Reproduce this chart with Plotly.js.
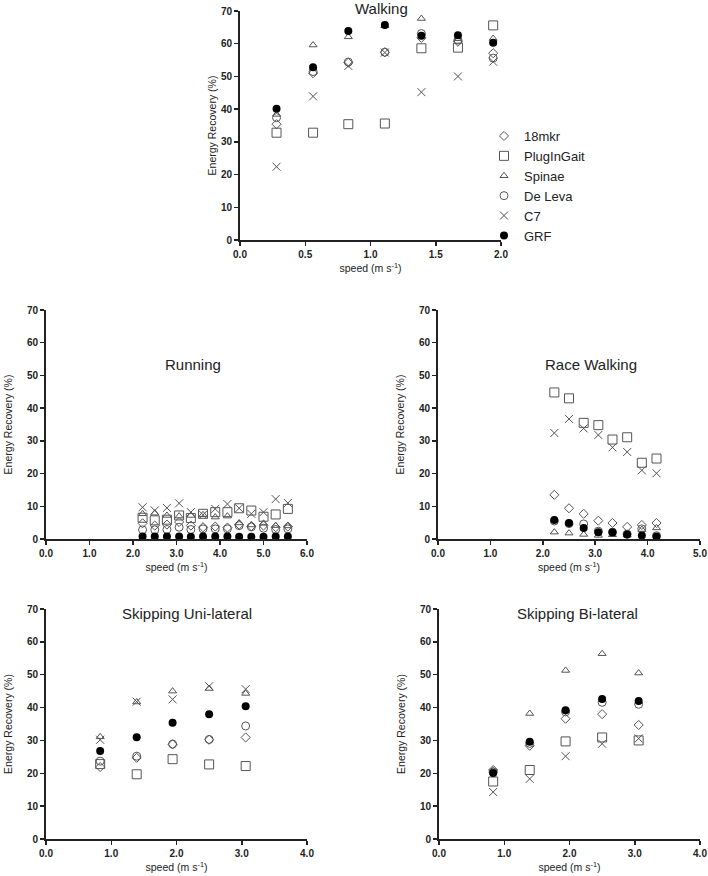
<!DOCTYPE html>
<html>
<head>
<meta charset="utf-8">
<script src="https://cdn.plot.ly/plotly-3.0.1.min.js"></script>
<style>
  body { margin: 0; background: #fff; }
  #chart { width: 708px; height: 876px; }
</style>
</head>
<body>
<div id="chart"></div>
<script>
// series names
var seriesNames = ["18mkr", "PlugInGait", "Spinae", "De Leva", "C7", "GRF"];

// Walking
var walkSpeed = [0.28, 0.56, 0.83, 1.11, 1.39, 1.67, 1.94];
var walk18mkr = [35.4, 51.0, 54.2, 57.4, 61.8, 60.6, 57.1];
var walkPIG   = [32.8, 32.8, 35.4, 35.6, 58.6, 58.8, 65.6];
var walkSpin  = [38.4, 59.6, 62.1, 65.5, 67.7, 61.5, 61.6];
var walkDeLev = [37.4, 51.5, 54.4, 57.4, 63.1, 61.1, 55.6];
var walkC7    = [22.4, 43.9, 53.2, 57.3, 45.2, 50.0, 54.5];
var walkGRF   = [40.1, 52.8, 63.9, 65.7, 62.4, 62.6, 60.3];

// Running
var runSpeed = [2.22, 2.50, 2.78, 3.06, 3.33, 3.61, 3.89, 4.17, 4.44, 4.72, 5.00, 5.28, 5.56];
var run18mkr = [4.8, 4.1, 4.4, 5.2, 4.1, 3.6, 3.8, 3.5, 4.4, 3.9, 4.1, 3.6, 3.8];
var runPIG   = [6.5, 5.7, 5.9, 7.2, 6.4, 7.7, 8.2, 8.2, 9.4, 8.7, 6.8, 7.5, 9.2];
var runSpin  = [7.7, 7.9, 7.2, 7.0, 7.2, 7.4, 6.7, 7.0, 4.9, 4.3, 4.8, 4.1, 4.0];
var runDeLev = [2.8, 2.8, 2.9, 3.6, 2.9, 3.1, 3.1, 3.1, 4.1, 3.7, 3.3, 2.9, 3.1];
var runC7    = [9.7, 8.7, 9.5, 10.9, 8.2, 7.4, 9.2, 10.7, 9.4, 7.7, 8.2, 12.2, 11.0];
var runGRF   = [0.8, 0.8, 0.8, 0.8, 0.7, 0.8, 0.8, 0.8, 0.7, 0.7, 0.7, 0.8, 0.8];

// Race Walking
var raceSpeed = [2.22, 2.50, 2.78, 3.06, 3.33, 3.61, 3.89, 4.17];
var race18mkr = [13.5, 9.4, 7.7, 5.6, 4.9, 3.7, 4.3, 4.9];
var racePIG   = [44.8, 43.0, 35.5, 34.8, 30.4, 31.1, 23.3, 24.6];
var raceSpin  = [2.1, 1.8, 1.4, 1.1, 1.3, 1.2, 2.9, 3.4];
var raceDeLev = [5.5, 4.7, 4.6, 2.4, 2.1, 1.5, 3.1, 1.0];
var raceC7    = [32.4, 36.7, 33.8, 31.8, 28.0, 26.6, 21.0, 20.1];
var raceGRF   = [5.8, 4.9, 3.4, 2.1, 2.1, 1.4, 1.1, 0.8];

// Skipping Uni-lateral
var uniSpeed = [0.83, 1.39, 1.94, 2.50, 3.06];
var uni18mkr = [21.9, 24.7, 28.8, 30.2, 30.9];
var uniPIG   = [22.8, 19.7, 24.3, 22.7, 22.2];
var uniSpin  = [31.1, 41.7, 45.0, 45.8, 44.3];
var uniDeLev = [23.7, 25.2, 28.9, 30.3, 34.4];
var uniC7    = [30.2, 41.8, 42.5, 46.5, 45.6];
var uniGRF   = [26.8, 31.0, 35.4, 38.0, 40.4];

// Skipping Bi-lateral
var biSpeed = [0.83, 1.39, 1.94, 2.50, 3.06];
var bi18mkr = [21.0, 28.4, 36.6, 38.0, 34.7];
var biPIG   = [17.5, 21.0, 29.7, 30.9, 30.0];
var biSpin  = [20.8, 38.2, 51.3, 56.4, 50.5];
var biDeLev = [20.4, 29.1, 38.7, 41.6, 41.0];
var biC7    = [14.3, 18.3, 25.2, 29.0, 30.6];
var biGRF   = [20.1, 29.6, 39.2, 42.6, 42.0];

var grey = "#555555";
var markers = [
  {symbol: "diamond-open", size: 7, color: grey, line: {width: 1}},
  {symbol: "square-open", size: 9, color: grey, line: {width: 1}},
  {symbol: "triangle-up-open", size: 7, color: grey, line: {width: 1}},
  {symbol: "circle-open", size: 8, color: grey, line: {width: 1}},
  {symbol: "x-thin-open", size: 8, color: grey, line: {width: 1}},
  {symbol: "circle", size: 8, color: "#000000"}
];

var traces = [];
function addPanel(speed, sets, n, legend) {
  var xa = n == 1 ? "x" : "x" + n;
  var ya = n == 1 ? "y" : "y" + n;
  for (var i = 0; i < sets.length; i++) {
    traces.push({
      x: speed, y: sets[i], xaxis: xa, yaxis: ya,
      type: "scatter", mode: "markers",
      name: seriesNames[i], legendgroup: seriesNames[i],
      showlegend: legend,
      marker: markers[i],
      cliponaxis: false
    });
  }
}
addPanel(walkSpeed, [walk18mkr, walkPIG, walkSpin, walkDeLev, walkC7, walkGRF], 1, true);
addPanel(runSpeed, [run18mkr, runPIG, runSpin, runDeLev, runC7, runGRF], 2, false);
addPanel(raceSpeed, [race18mkr, racePIG, raceSpin, raceDeLev, raceC7, raceGRF], 3, false);
addPanel(uniSpeed, [uni18mkr, uniPIG, uniSpin, uniDeLev, uniC7, uniGRF], 4, false);
addPanel(biSpeed, [bi18mkr, biPIG, biSpin, biDeLev, biC7, biGRF], 5, false);

var W = 708, H = 876;
var tickFont = {family: "Liberation Sans Narrow, Arial Narrow, Liberation Sans, Arial", size: 10, color: "#222", weight: 700};
var titleFont = {family: "Liberation Sans Narrow, Arial Narrow, Liberation Sans, Arial", size: 10.5, color: "#222"};

function xAxis(x0, x1, max, dtick, anchor) {
  return {
    domain: [x0 / W, x1 / W], range: [0, max], dtick: dtick, tick0: 0,
    tickformat: ".1f", showgrid: false, zeroline: false,
    showline: true, linecolor: "#222", linewidth: 2,
    ticks: "outside", ticklen: 4, tickwidth: 1.5, tickcolor: "#222",
    tickfont: tickFont, anchor: anchor,
    title: {text: "speed (m s<sup>-1</sup>)", font: titleFont, standoff: 6}
  };
}
function yAxis(y0, y1, anchor, standoff) {
  return {
    domain: [1 - y1 / H, 1 - y0 / H], range: [0, 70], dtick: 10,
    showgrid: false, zeroline: false,
    showline: true, linecolor: "#222", linewidth: 2,
    ticks: "outside", ticklen: 4, tickwidth: 1.5, tickcolor: "#222",
    tickfont: tickFont, anchor: anchor,
    title: {text: "Energy Recovery (%)", font: titleFont, standoff: standoff}
  };
}

var annFont = {family: "Liberation Sans, Arial", size: 15, color: "#222"};
function panelTitle(text, cx, cy) {
  return {text: text, x: cx / W, y: 1 - cy / H, xref: "paper", yref: "paper",
    showarrow: false, font: annFont, xanchor: "center", yanchor: "middle"};
}

var layout = {
  width: W, height: H,
  margin: {l: 0, r: 0, t: 0, b: 0},
  paper_bgcolor: "#ffffff", plot_bgcolor: "#ffffff",
  showlegend: true,
  legend: {x: 484 / W, y: 1 - 121 / H, xanchor: "left", yanchor: "top",
    font: {family: "Liberation Sans, Arial", size: 13, color: "#222"},
    bgcolor: "rgba(0,0,0,0)", tracegroupgap: 0, itemwidth: 30},
  xaxis: xAxis(240, 501, 2, 0.5, "y"),
  yaxis: yAxis(11, 240, "x", 2),
  xaxis2: xAxis(46, 307, 6, 1, "y2"),
  yaxis2: yAxis(310, 539, "x2", 12),
  xaxis3: xAxis(438, 700, 5, 1, "y3"),
  yaxis3: yAxis(310, 539, "x3", 12),
  xaxis4: xAxis(46, 307, 4, 1, "y4"),
  yaxis4: yAxis(609, 839, "x4", 12),
  xaxis5: xAxis(439, 700, 4, 1, "y5"),
  yaxis5: yAxis(609, 839, "x5", 12),
  annotations: [
    panelTitle("Walking", 381, 8),
    panelTitle("Running", 193, 364),
    panelTitle("Race Walking", 591, 364),
    panelTitle("Skipping Uni-lateral", 187, 613),
    panelTitle("Skipping Bi-lateral", 577, 613)
  ]
};

Plotly.newPlot("chart", traces, layout, {displayModeBar: false, staticPlot: true});
</script>
</body>
</html>
